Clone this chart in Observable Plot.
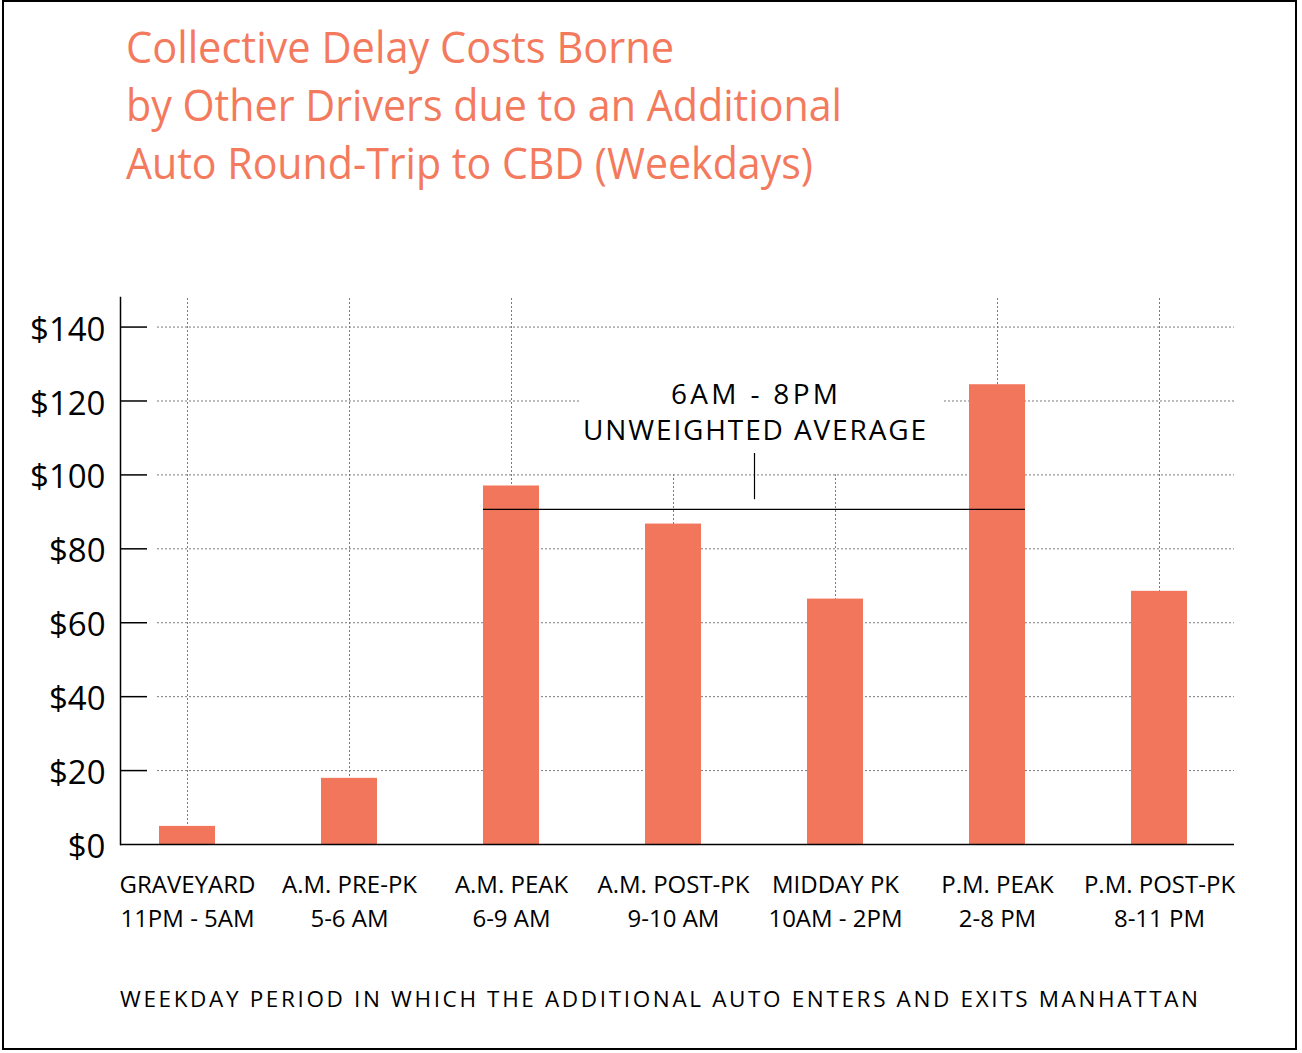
<!DOCTYPE html>
<html><head><meta charset="utf-8">
<script src="https://cdn.jsdelivr.net/npm/d3@7"></script>
<script src="https://cdn.jsdelivr.net/npm/@observablehq/plot@0.6"></script>
<style>
body{margin:0;background:#fff;}
#page{position:relative;width:1302px;height:1053px;overflow:hidden;font-family:"Open Sans",sans-serif;background:#fff;}
#border{position:absolute;left:2px;top:0;width:1295px;height:1050px;border:2px solid #000;box-sizing:border-box;pointer-events:none;}
#title{position:absolute;left:126px;top:17px;color:#F47A5E;font-size:44px;line-height:58px;font-weight:400;}
#title span{display:inline-block;white-space:nowrap;transform-origin:0 50%;}
#chart{position:absolute;left:0;top:280px;}
#caption{position:absolute;left:120px;top:984px;font-size:22.5px;line-height:30px;white-space:nowrap;color:#000;}
#caption span{display:inline-block;}
</style></head><body>
<div id="page"><div id="title"></div><div id="chart"></div><div id="caption"><span></span></div><div id="border"></div></div>
<script>
// ---- data ----
const periods = ["GRAVEYARD", "A.M. PRE-PK", "A.M. PEAK", "A.M. POST-PK", "MIDDAY PK", "P.M. PEAK", "P.M. POST-PK"];
const hours = ["11PM - 5AM", "5-6 AM", "6-9 AM", "9-10 AM", "10AM - 2PM", "2-8 PM", "8-11 PM"];
const costs = [4.9, 17.9, 97.0, 86.7, 66.4, 124.4, 68.5];
const averageValue = 90.7;
const averageFrom = "A.M. PEAK";
const averageTo = "P.M. PEAK";
const yTicks = [0, 20, 40, 60, 80, 100, 120, 140];
const annotationLines = ["6AM - 8PM", "UNWEIGHTED AVERAGE"];
const annotationY = [121.5, 111.8];
const pointerRange = [93.3, 105.8];
const titleLines = ["Collective Delay Costs Borne", "by Other Drivers due to an Additional", "Auto Round-Trip to CBD (Weekdays)"];
const captionText = "WEEKDAY PERIOD IN WHICH THE ADDITIONAL AUTO ENTERS AND EXITS MANHATTAN";

// ---- layout helpers (widths to match reference) ----
const titleWidths = [548, 716, 687];
const captionWidth = 1078;
const annotationWidths = [167, 343];

const titleDiv = document.getElementById("title");
titleLines.forEach((t, i) => {
  const line = document.createElement("div");
  const s = document.createElement("span");
  s.textContent = t;
  line.appendChild(s);
  titleDiv.appendChild(line);
  const w = s.getBoundingClientRect().width;
  s.style.transform = `scaleX(${titleWidths[i] / w})`;
});

const cap = document.querySelector("#caption span");
cap.textContent = captionText;
const cw = cap.getBoundingClientRect().width;
cap.style.letterSpacing = ((captionWidth - cw) / (captionText.length - 1)) + "px";

const table = periods.map((p, i) => ({
  period: p,
  cost: costs[i],
  gridTop: (p === "A.M. POST-PK" || p === "MIDDAY PK") ? 100 : 148
}));

const grid = {stroke: "#7a7a7a", strokeDasharray: "2,2", strokeWidth: 1};
const gridFull = yTicks.filter(t => t > 0 && t !== 120);
const gridSplit = [120];

const chart = Plot.plot({
  width: 1302,
  height: 680,
  marginTop: 17,
  marginBottom: 116,
  marginLeft: 120,
  marginRight: 68,
  style: {fontFamily: "Open Sans", color: "black", background: "transparent", overflow: "visible"},
  x: {domain: periods, range: [105, 1241], paddingInner: 0.655, paddingOuter: 0.3275, align: 0.5, label: null},
  y: {domain: [0, 148], label: null},
  marks: [
    Plot.ruleX(table, {x: "period", y1: 0, y2: "gridTop", ...grid}),
    Plot.tickY(gridFull, {y: d => d, insetLeft: 37, ...grid}),
    Plot.tickY(gridSplit, {y: d => d, insetLeft: 37, insetRight: 653, ...grid}),
    Plot.tickY(gridSplit, {y: d => d, insetLeft: 824, ...grid}),
    Plot.tickY(yTicks.filter(t => t > 0), {y: d => d, insetRight: 1087, stroke: "black", strokeWidth: 1.5}),
    Plot.barY(table, {x: "period", y: "cost", fill: "#F2765C"}),
    Plot.ruleY([0], {stroke: "black", strokeWidth: 1.5}),
    Plot.frame({anchor: "left", stroke: "black", strokeWidth: 1.5}),
    Plot.ruleY([averageValue], {y: d => d, x1: () => averageFrom, x2: () => averageTo, stroke: "black", strokeWidth: 1.2}),
    Plot.ruleX([pointerRange], {x: () => "A.M. POST-PK", dx: 81, y1: d => d[0], y2: d => d[1], stroke: "black", strokeWidth: 1.2}),
    Plot.text(annotationLines, {x: () => "A.M. POST-PK", dx: 81, y: (d, i) => annotationY[i], text: d => d, fontSize: 28, fill: "black"}),
    Plot.axisY({ticks: yTicks, tickFormat: d => "$" + d, tickSize: 0, tickPadding: 15, fontSize: 33, dy: 3, label: null}),
    Plot.axisX({tickSize: 0, tickPadding: 24, fontSize: 24, lineHeight: 1.42, label: null, tickFormat: d => d + "\n" + hours[periods.indexOf(d)]})
  ]
});
document.getElementById("chart").appendChild(chart);

d3.select(chart).selectAll("text").each(function () {
  const k = annotationLines.indexOf(this.textContent);
  if (k >= 0) {
    this.setAttribute("textLength", annotationWidths[k]);
    this.setAttribute("lengthAdjust", "spacing");
  }
});
</script>
</body></html>
